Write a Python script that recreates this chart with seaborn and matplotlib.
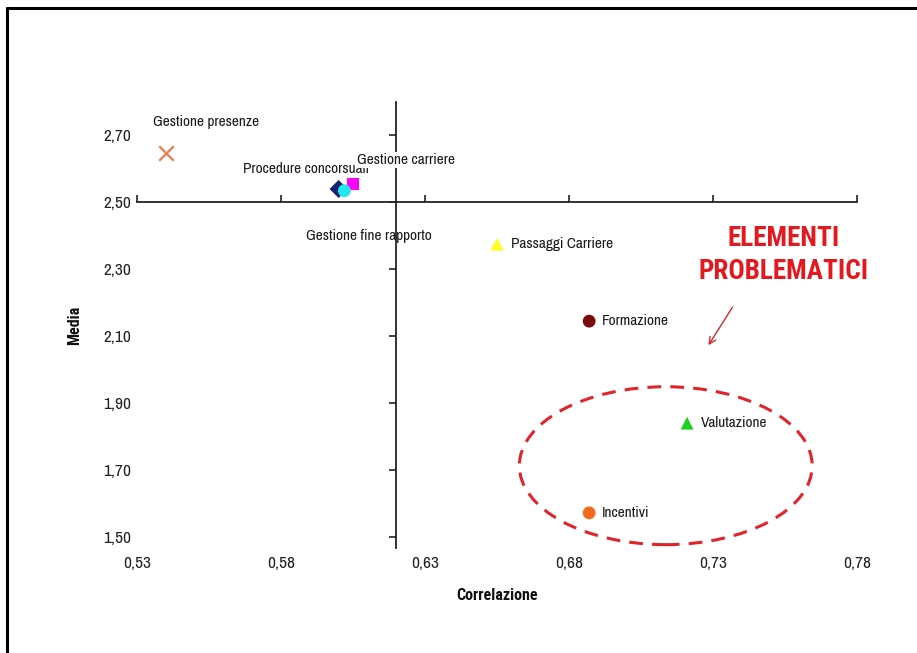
import matplotlib
matplotlib.use("Agg")
import matplotlib.pyplot as plt
from matplotlib import font_manager as fm
from matplotlib.patches import Ellipse
from matplotlib.lines import Line2D
import seaborn as sns
import pandas as pd

# Correlazione (x) e Media (y) per ciascun processo
processi = ["Procedure concorsuali", "Gestione carriere", "Gestione fine rapporto",
            "Passaggi Carriere", "Formazione", "Valutazione", "Incentivi"]
correlazione = [0.600, 0.605, 0.602, 0.655, 0.687, 0.721, 0.687]
media = [2.54, 2.555, 2.535, 2.375, 2.145, 1.84, 1.572]

processo_x = "Gestione presenze"
correlazione_x = 0.540
media_x = 2.648

colori = ["#16206E", "#FF00FF", "#22E6F0", "#FFFF1A", "#7A0C0C", "#1FD21F", "#F26A1B"]
marcatori = ["D", "s", "o", "^", "o", "^", "o"]

x_ticks = [0.53, 0.58, 0.63, 0.68, 0.73, 0.78]
y_ticks = [1.50, 1.70, 1.90, 2.10, 2.30, 2.50, 2.70]

# narrow sans-serif faces for all the lettering
disponibili = {f.name for f in fm.fontManager.ttflist}


def scegli(*candidati):
    return next((c for c in candidati if c in disponibili), "DejaVu Sans")


FONT = scegli("Liberation Sans Narrow", "Arimo Narrow", "Archivo Narrow", "Roboto Condensed")
FONT_B = scegli("Liberation Sans Narrow", "Roboto Condensed", "Barlow Semi Condensed", "Archivo Narrow")

sns.set_theme(style="white")
plt.rcParams["font.family"] = [FONT, "DejaVu Sans"]

fig = plt.figure(figsize=(9.17, 6.53), dpi=100)
W, H = 917, 653
ax = fig.add_axes([137 / W, 1 - 548 / H, (857 - 137) / W, (548 - 102) / H])

df = pd.DataFrame({"processo": processi, "correlazione": correlazione, "media": media})
sns.scatterplot(data=df, x="correlazione", y="media", hue="processo", style="processo",
                palette=dict(zip(processi, colori)), markers=dict(zip(processi, marcatori)),
                s=85, linewidth=0, legend=False, ax=ax, zorder=4)
sns.scatterplot(x=[correlazione_x], y=[media_x], marker="x", color="#EC7A52",
                s=110, linewidth=1.6, legend=False, ax=ax, zorder=4)

xmin, xmax = 0.53, 0.78
ymin, ymax = 1.467, 2.80
ax.set_xlim(xmin, xmax)
ax.set_ylim(ymin, ymax)

# tick labels at the outer edges, axis lines crossing inside the plot
ax.set_xticks(x_ticks)
ax.set_yticks(y_ticks)
ax.set_xticklabels([f"{v:.2f}".replace(".", ",") for v in x_ticks])
ax.set_yticklabels([f"{v:.2f}".replace(".", ",") for v in y_ticks])
ax.tick_params(axis="both", length=0, labelsize=12.5, colors="#222222")
ax.tick_params(axis="x", pad=6)
ax.tick_params(axis="y", pad=4)
for s in ax.spines.values():
    s.set_visible(False)

x_cross = 0.62
y_cross = 2.50
sec_x = ax.secondary_xaxis((y_cross - ymin) / (ymax - ymin))
sec_x.set_xticks(x_ticks)
sec_x.tick_params(axis="x", direction="out", length=5, width=1.2, color="#222222",
                  labelbottom=False, labeltop=False)
sec_x.spines["bottom"].set_visible(True)
sec_x.spines["bottom"].set_color("#222222")
sec_x.spines["bottom"].set_linewidth(1.3)
sec_x.spines["top"].set_visible(False)

sec_y = ax.secondary_yaxis((x_cross - xmin) / (xmax - xmin))
sec_y.set_yticks(y_ticks)
sec_y.tick_params(axis="y", direction="out", length=5, width=1.2, color="#222222",
                  labelleft=False, labelright=False)
sec_y.spines["left"].set_visible(True)
sec_y.spines["left"].set_color("#222222")
sec_y.spines["left"].set_linewidth(1.3)
sec_y.spines["right"].set_visible(False)

ax.set_xlabel("Correlazione", fontsize=11.5, fontweight="bold", family=[FONT_B],
              labelpad=12, color="#111111")
ax.set_ylabel("Media", fontsize=11.5, fontweight="bold", family=[FONT_B],
              labelpad=15, color="#111111")

# data labels (pixel offsets from each point)
etichette = {
    "Gestione presenze": (correlazione_x, media_x, -13, 31),
    "Procedure concorsuali": (correlazione[0], media[0], -96, 20),
    "Gestione fine rapporto": (correlazione[2], media[2], -38, -45),
    "Passaggi Carriere": (correlazione[3], media[3], 14, 0),
    "Formazione": (correlazione[4], media[4], 13, 0),
    "Valutazione": (correlazione[5], media[5], 14, 0),
    "Incentivi": (correlazione[6], media[6], 13, 0),
}
for testo, (x, y, dx, dy) in etichette.items():
    ax.annotate(testo, (x, y), xytext=(dx, dy), textcoords="offset pixels",
                ha="left", va="center", fontsize=11, color="#1a1a1a", zorder=5)
ax.annotate("Gestione carriere", (correlazione[1], media[1]), xytext=(4, 24),
            textcoords="offset pixels", ha="left", va="center", fontsize=11,
            color="#1a1a1a", zorder=6,
            bbox=dict(boxstyle="square,pad=0.05", fc="white", ec="none"))

# highlighted area
ax.add_patch(Ellipse((0.7136, 1.713), 0.1017, 0.472, fill=False, ec="#E0242B",
                     lw=2.2, ls=(0, (4.5, 3)), zorder=3))
ax.text(0.7544, 2.343, "ELEMENTI\nPROBLEMATICI", ha="center", va="center",
        fontsize=19.5, fontweight="bold", family=[FONT_B], color="#E3191F",
        linespacing=1.25)
ax.annotate("", xy=(0.7279, 2.066), xytext=(0.7373, 2.194),
            arrowprops=dict(arrowstyle="->", color="#D9262B", lw=1.0,
                            mutation_scale=12))

# slide frame (top and left edges)
fig.add_artist(Line2D([7 / W, 1], [1 - 8 / H, 1 - 8 / H], color="black", lw=2.2))
fig.add_artist(Line2D([7 / W, 7 / W], [0, 1 - 8 / H], color="black", lw=2.2))

fig.savefig("out.png", dpi=100, facecolor="white")
